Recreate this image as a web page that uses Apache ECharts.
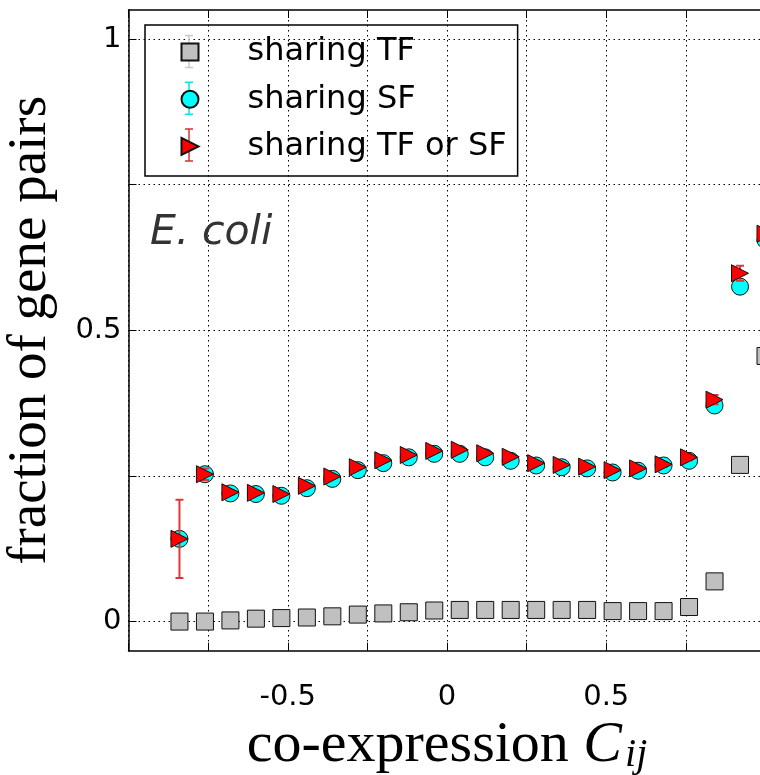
<!DOCTYPE html>
<html><head><meta charset="utf-8">
<script src="https://cdn.jsdelivr.net/npm/echarts@6/dist/echarts.min.js"></script>
<style>html,body{margin:0;padding:0;background:#fff}#c{width:760px;height:775px}</style>
</head><body><div id="c"></div>
<script>
const xBins = [-0.84,-0.76,-0.68,-0.60,-0.52,-0.44,-0.36,-0.28,-0.20,-0.12,-0.04,0.04,0.12,0.20,0.28,0.36,0.44,0.52,0.60,0.68,0.76,0.84,0.92,1.00];
const tfVals = [0.000,0.000,0.002,0.005,0.006,0.007,0.009,0.012,0.014,0.016,0.019,0.020,0.020,0.020,0.020,0.020,0.020,0.018,0.018,0.018,0.025,0.069,0.269,0.456];
const tfErr  = [0.002,0.001,0.001,0.001,0.001,0.001,0.001,0.001,0.001,0.001,0.001,0.001,0.001,0.001,0.001,0.001,0.001,0.001,0.001,0.001,0.002,0.003,0.006,0.010];
const sfVals = [0.142,0.253,0.220,0.219,0.216,0.229,0.245,0.260,0.272,0.282,0.288,0.288,0.282,0.276,0.268,0.265,0.263,0.256,0.259,0.268,0.276,0.371,0.575,0.655];
const sfErr  = [0.012,0.009,0.004,0.003,0.003,0.003,0.003,0.003,0.003,0.003,0.003,0.003,0.003,0.003,0.003,0.003,0.003,0.003,0.004,0.004,0.005,0.007,0.012,0.012];
const bothVals = [0.142,0.253,0.222,0.221,0.219,0.233,0.249,0.265,0.277,0.286,0.293,0.295,0.289,0.283,0.272,0.269,0.266,0.260,0.263,0.270,0.282,0.381,0.598,0.666];
const bothErr  = [0.067,0.010,0.004,0.003,0.003,0.003,0.003,0.003,0.003,0.003,0.003,0.003,0.003,0.003,0.003,0.003,0.003,0.003,0.004,0.004,0.005,0.008,0.013,0.020];
const seriesNames = ['sharing TF','sharing SF','sharing TF or SF'];
const xTicks = 0.25;
const xTickLabels = [-0.5, 0, 0.5];
const yTicks = [0, 0.25, 0.5, 0.75, 1];
const yTickLabels = [0, 0.5, 1];

const chart = echarts.init(document.getElementById('c'), null, {renderer: 'canvas'});
function pts(vals) { return xBins.map((x, i) => [x, vals[i]]); }
function errPts(vals, errs) { return xBins.map((x, i) => [x, vals[i], errs[i]]); }
function errSeries(name, vals, errs, color, z) {
  return {
    type: 'custom', name: name, z: z, silent: true, clip: true,
    itemStyle: {color: color},
    data: errPts(vals, errs), encode: {x: 0, y: 1},
    renderItem(params, api) {
      const x = api.value(0), y = api.value(1), e = api.value(2);
      const t = api.coord([x, y + e]), b = api.coord([x, y - e]);
      const cw = 4;
      const d = 'M' + t[0] + ',' + t[1] + 'L' + b[0] + ',' + b[1] +
        'M' + (t[0] - cw) + ',' + t[1] + 'L' + (t[0] + cw) + ',' + t[1] +
        'M' + (b[0] - cw) + ',' + b[1] + 'L' + (b[0] + cw) + ',' + b[1];
      return {type: 'path', shape: {pathData: d}, style: {fill: 'none', stroke: color, lineWidth: 2}};
    }
  };
}
const triPath = 'path://M0,0L2,1L0,2Z';
const dotted = {color: '#000', type: [1.5, 3.5], width: 1};
function legendErr(cx, cy, color) {
  const st = {stroke: color, lineWidth: 1.5};
  return [
    {type: 'line', z: 3, shape: {x1: cx, y1: cy - 16, x2: cx, y2: cy + 16}, style: st},
    {type: 'line', z: 3, shape: {x1: cx - 4, y1: cy - 16, x2: cx + 4, y2: cy - 16}, style: st},
    {type: 'line', z: 3, shape: {x1: cx - 4, y1: cy + 16, x2: cx + 4, y2: cy + 16}, style: st}
  ];
}

chart.setOption({
  animation: false,
  backgroundColor: '#fff',
  grid: {left: 128.5, right: -5.5, top: 10, bottom: 124.3, containLabel: false, outerBoundsMode: 'none'},
  xAxis: [{
    type: 'value', min: -1, max: 1, interval: xTicks, position: 'bottom',
    axisLine: {show: true, onZero: false, lineStyle: {color: '#000', width: 1.5}},
    axisTick: {show: true, inside: true, length: 8, lineStyle: {color: '#000', width: 1}},
    axisLabel: {customValues: xTickLabels, fontFamily: 'DejaVu Sans', fontSize: 29, color: '#000', margin: 32},
    splitLine: {show: true, lineStyle: dotted},
    name: '{a|co-expression }{b|C}{c|ij}', nameLocation: 'middle', nameGap: 60,
    nameTextStyle: {color: '#000', rich: {
      a: {fontFamily: 'Liberation Serif', fontSize: 58, lineHeight: 60, color: '#000'},
      b: {fontFamily: 'Liberation Serif', fontStyle: 'italic', fontSize: 58, lineHeight: 60, color: '#000'},
      c: {fontFamily: 'Liberation Serif', fontStyle: 'italic', fontSize: 40, lineHeight: 40, verticalAlign: 'bottom', color: '#000', padding: [0, 0, 0, 3]}
    }}
  }, {
    type: 'value', min: -1, max: 1, interval: xTicks, position: 'top',
    axisLine: {show: true, onZero: false, lineStyle: {color: '#000', width: 1.5}},
    axisTick: {show: true, inside: true, length: 8, lineStyle: {color: '#000', width: 1}},
    axisLabel: {show: false}, splitLine: {show: false}
  }],
  yAxis: {
    type: 'value', min: -0.05, max: 1.05,
    axisLine: {show: true, onZero: false, lineStyle: {color: '#000', width: 1.5}},
    axisTick: {show: true, inside: true, length: 8, customValues: yTicks, lineStyle: {color: '#000', width: 1}},
    axisLabel: {customValues: yTickLabels, fontFamily: 'DejaVu Sans', fontSize: 29, color: '#000', margin: 7},
    splitLine: {show: true, lineStyle: dotted},
    name: 'fraction of gene pairs', nameLocation: 'middle', nameGap: 70,
    nameTextStyle: {fontFamily: 'Liberation Serif', fontSize: 55, color: '#000'}
  },
  legend: {
    data: [
      {name: seriesNames[0], icon: 'rect'},
      {name: seriesNames[1], icon: 'circle'},
      {name: seriesNames[2], icon: triPath}
    ],
    orient: 'vertical', left: 145, top: 25, itemWidth: 17, itemHeight: 17, itemGap: 15.2,
    padding: [11, 11, 13.5, 35.5], borderColor: '#000', borderWidth: 1.5, borderRadius: 0,
    backgroundColor: 'rgba(255,255,255,0)', selectedMode: false, z: 5,
    textStyle: {fontFamily: 'DejaVu Sans', fontSize: 32, color: '#000', lineHeight: 17, padding: [0, 0, 0, 44]}
  },
  graphic: [
    {type: 'text', left: 150, top: 213, z: 3, style: {text: 'E. coli', font: 'italic 41px "DejaVu Sans"', fill: '#333'}}
  ].concat(legendErr(189, 51.5, '#c8c8c8'), legendErr(189, 98.3, '#00e5e5'), legendErr(189, 145, '#d43030')),
  series: [
    errSeries('errTF', tfVals, tfErr, '#c8c8c8', 1),
    {type: 'scatter', name: seriesNames[0], z: 2, silent: true, data: pts(tfVals), symbol: 'rect', symbolSize: 17,
      itemStyle: {color: '#c0c0c0', borderColor: '#111', borderWidth: 1, opacity: 1}},
    errSeries('errSF', sfVals, sfErr, '#00e5e5', 3),
    {type: 'scatter', name: seriesNames[1], z: 4, silent: true, data: pts(sfVals), symbol: 'circle', symbolSize: 17,
      itemStyle: {color: '#00ffff', borderColor: '#111', borderWidth: 1, opacity: 1}},
    errSeries('errBoth', bothVals, bothErr, '#d83a3a', 5),
    {type: 'scatter', name: seriesNames[2], z: 6, silent: true, data: pts(bothVals), symbol: triPath, symbolSize: 17,
      itemStyle: {color: '#ff0000', borderColor: '#111', borderWidth: 1, opacity: 1}}
  ]
});
</script></body></html>
